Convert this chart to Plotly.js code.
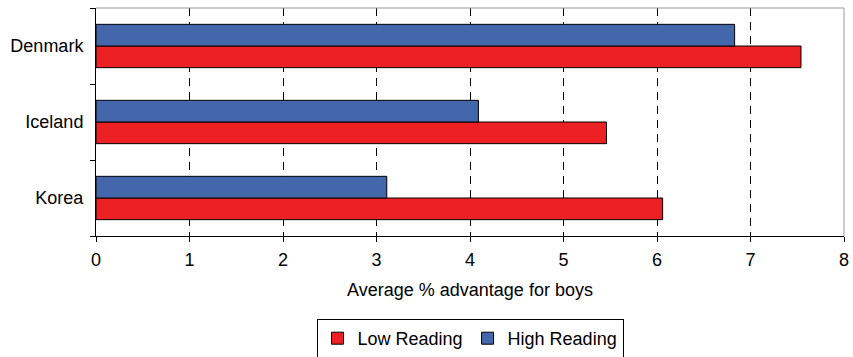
<!DOCTYPE html>
<html><head><meta charset="utf-8">
<script src="https://cdn.plot.ly/plotly-3.0.1.min.js"></script>
<style>html,body{margin:0;padding:0;background:#fff}</style>
</head><body>
<div id="chart" style="width:853px;height:357px"></div>
<script>
const categories = ['Korea', 'Iceland', 'Denmark'];
const lowReading = [6.06, 5.46, 7.54];
const highReading = [3.11, 4.09, 6.83];
const seriesNames = ['Low Reading', 'High Reading'];
const xTicks = [0, 1, 2, 3, 4, 5, 6, 7, 8];

const font = {family: 'Liberation Sans, Arial, sans-serif', size: 18, color: '#000'};
const traces = [
  {type: 'bar', orientation: 'h', name: seriesNames[0], y: categories, x: lowReading,
   marker: {color: '#ED2024', line: {color: '#000', width: 1}}},
  {type: 'bar', orientation: 'h', name: seriesNames[1], y: categories, x: highReading,
   marker: {color: '#4466AA', line: {color: '#000', width: 1}}}
];
const layout = {
  width: 853, height: 357,
  margin: {l: 96, r: 9, t: 8, b: 121, autoexpand: false},
  paper_bgcolor: '#fff', plot_bgcolor: '#fff',
  font: font,
  barmode: 'group', bargap: 0.43, bargroupgap: 0,
  showlegend: true,
  legend: {orientation: 'h', x: 0.5, xanchor: 'center', xref: 'paper',
    yref: 'container', y: (357 - 319) / 357, yanchor: 'top',
    bordercolor: '#000', borderwidth: 1, font: {size: 18}, traceorder: 'normal',
    itemwidth: 30, tracegroupgap: 0},
  xaxis: {range: [0, 8], tickvals: xTicks, ticktext: xTicks.map(String), automargin: false,
    showgrid: true, gridcolor: '#000', griddash: '8px,6px', gridwidth: 1,
    showline: true, linecolor: '#000', linewidth: 1, mirror: false,
    ticks: 'outside', ticklen: 5, tickcolor: '#000', zeroline: false,
    tickfont: {size: 18}, ticklabelstandoff: 2,
    title: {text: 'Average % advantage for boys', font: {size: 18}, standoff: 14}},
  yaxis: {type: 'category', categoryorder: 'array', categoryarray: categories, automargin: false,
    showgrid: false, showline: true, linecolor: '#000', linewidth: 1,
    ticks: 'outside', ticklen: 5, tickcolor: '#000', tickson: 'boundaries',
    tickfont: {size: 18}, ticklabelstandoff: 8},
  shapes: [
    {type: 'line', xref: 'paper', yref: 'paper', x0: 0, x1: 1, y0: 1, y1: 1, line: {color: '#999', width: 1}},
    {type: 'line', xref: 'paper', yref: 'paper', x0: 1, x1: 1, y0: 0, y1: 1, line: {color: '#999', width: 1}}
  ]
};
Plotly.newPlot('chart', traces, layout, {displayModeBar: false, staticPlot: true});
</script>
</body></html>
